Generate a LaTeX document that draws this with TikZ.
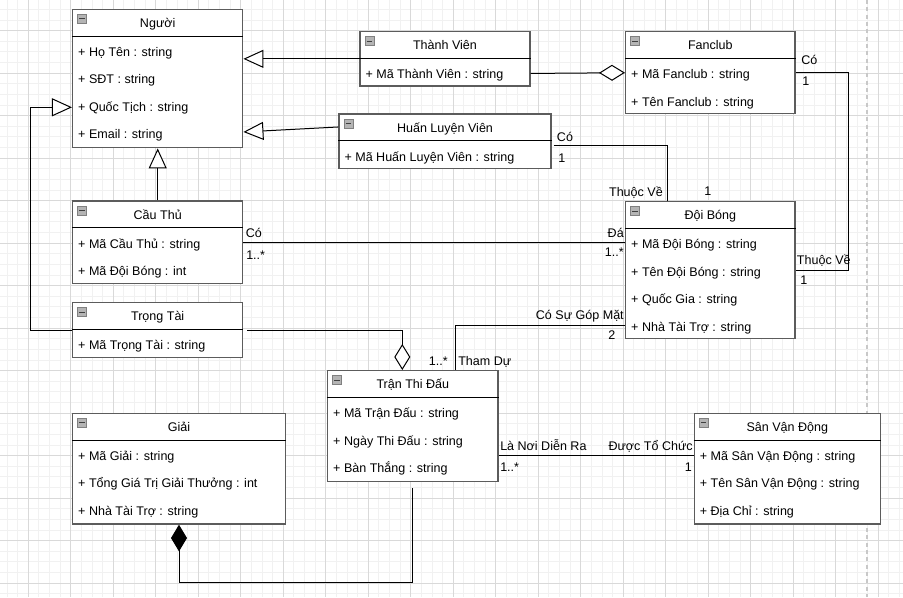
\documentclass[tikz,border=0pt]{standalone}
\usepackage{fontspec}
\setmainfont{Liberation Sans}
\usetikzlibrary{arrows.meta,calc,fit}

\definecolor{gridminor}{HTML}{F1F1F1}
\definecolor{gridmajor}{HTML}{D9D9D9}
\definecolor{boxborder}{HTML}{5C5C5C}
\definecolor{pagebreak}{HTML}{C8C8C8}
\definecolor{iconfill}{HTML}{B4B4B4}
\definecolor{iconedge}{HTML}{808080}

\newcommand{\labelfont}{\fontsize{9.4}{11}\selectfont}

\tikzset{
  classbox/.style={rectangle, draw=boxborder, line width=1.1pt, fill=white, inner sep=0pt},
  divider/.style={draw=black, line width=0.75pt},
  classtitle/.style={font=\labelfont, inner sep=0pt, text height=7pt, text depth=2pt},
  attr/.style={font=\labelfont, inner sep=0pt, anchor=west, text height=7pt, text depth=2pt},
  role/.style={font=\labelfont, inner sep=0pt, text height=7pt, text depth=2pt},
  conn/.style={draw=black, line width=0.75pt},
  gen/.style={conn, -{Triangle[length=15pt, width=13.5pt, fill=white]}},
  agg/.style={conn, -{Diamond[length=19.5pt, width=12pt, fill=white]}},
  comp/.style={conn, {Diamond[length=20pt, width=12pt]}-},
  iconbox/.style={draw=iconedge, fill=iconfill, line width=0.5pt},
  icondash/.style={draw=black!75, line width=0.9pt},
}

% UML class: name, x1, y1, x2, y2, title, attributes
\newcommand{\umlclass}[7]{%
  \node[classbox, fit={(#2,#3) (#4,#5)}] (#1) {};
  \draw[divider] ($(#1.north west)+(0,27.5)$) -- ($(#1.north east)+(0,27.5)$);
  \node[classtitle] (#1-title) at ($(#1.north)+(0,15.5)$) {#6};
  \draw[iconbox] ($(#1.north west)+(5.6,5.7)$) rectangle ++(9,9);
  \draw[icondash] ($(#1.north west)+(7.4,10.2)$) -- ++(5.4,0);
  \foreach \t [count=\k] in {#7} {
    \node[attr] (#1-a\k) at ($(#1.north west)+(6,{44.5+27.5*(\k-1)})$) {\t};
  }
}

\begin{document}
\begin{tikzpicture}[x=0.75pt, y=-0.75pt]
  \useasboundingbox (0,0) rectangle (903,597);
  \fill[white] (0,0) rectangle (903,597);

  % background grid
  \foreach \k in {-2,...,82} {
    \draw[gridminor, line width=0.75pt] ({28.3+\k*10.625},0) -- ++(0,597);
  }
  \foreach \k in {-2,...,53} {
    \draw[gridminor, line width=0.75pt] (0,{30.7+\k*10.625}) -- ++(903,0);
  }
  \foreach \k in {0,...,20} {
    \draw[gridmajor, line width=0.75pt] ({28.3+\k*42.5},0) -- ++(0,597);
  }
  \foreach \k in {0,...,13} {
    \draw[gridmajor, line width=0.75pt] (0,{30.7+\k*42.5}) -- ++(903,0);
  }
  % page break marker
  \draw[pagebreak, line width=1.5pt, dash pattern=on 3pt off 2.5pt] (867,0) -- (867,597);

  % ---------- classes ----------
  \umlclass{nguoi}{72.7}{9.3}{242.7}{147.7}{Người}{+ Họ Tên : string,+ SĐT : string,+ Quốc Tịch : string,+ Email : string}
  \umlclass{thanhvien}{360}{31.7}{530}{86}{Thành Viên}{+ Mã Thành Viên : string}
  \umlclass{hlv}{339}{114}{551}{168.7}{Huấn Luyện Viên}{+ Mã Huấn Luyện Viên : string}
  \umlclass{fanclub}{625.7}{31.7}{795}{113.7}{Fanclub}{+ Mã Fanclub : string,+ Tên Fanclub : string}
  \umlclass{doibong}{625.7}{201.7}{795}{338.7}{Đội Bóng}{+ Mã Đội Bóng : string,+ Tên Đội Bóng : string,+ Quốc Gia : string,+ Nhà Tài Trợ : string}
  \umlclass{cauthu}{72.7}{201}{242.7}{283.7}{Cầu Thủ}{+ Mã Cầu Thủ : string,+ Mã Đội Bóng : int}
  \umlclass{trongtai}{72.7}{302.7}{242.7}{357.7}{Trọng Tài}{+ Mã Trọng Tài : string}
  \umlclass{tran}{327.7}{370.7}{498}{481.3}{Trận Thi Đấu}{+ Mã Trận Đấu : string,+ Ngày Thi Đấu : string,+ Bàn Thắng : string}
  \umlclass{san}{694.3}{413.3}{880.3}{524}{Sân Vận Động}{+ Mã Sân Vận Động : string,+ Tên Sân Vận Động : string,+ Địa Chỉ : string}
  \umlclass{giai}{72.7}{413.3}{285.3}{524}{Giải}{+ Mã Giải : string,+ Tổng Giá Trị Giải Thưởng : int,+ Nhà Tài Trợ : string}

  % ---------- bend points ----------
  \coordinate (tt-bend) at (30.7,107.3);
  \coordinate (fd-x) at (848.3,0);
  \coordinate (hd-x) at (667.7,0);
  \coordinate (ta-x) at (402.3,0);
  \coordinate (tb) at (455.7,325.3);
  \coordinate (ts-y) at (0,455);
  \coordinate (gt-y) at (0,582.7);

  % ---------- generalisations ----------
  \draw[gen] (thanhvien.west) -- (thanhvien.west -| nguoi.east);
  \draw[gen] ($(hlv.north west)+(0,13.7)$) -- ($(nguoi.north east)+(0,123.4)$);
  \draw[gen] (cauthu.north) -- (nguoi.south);
  \draw[gen] (trongtai.west) -| (tt-bend) -- (tt-bend -| nguoi.west);

  % ---------- aggregations / composition ----------
  \draw[agg] ($(thanhvien.south east)+(0,-13.3)$) -- (fanclub.west);
  \draw[agg] ([xshift=3pt]trongtai.east) -| (ta-x |- tran.north);
  \draw[comp] (giai.south) -- (giai.south |- gt-y) -| ([yshift=-4.5pt]tran.south);

  % ---------- associations ----------
  \draw[conn] (fanclub.east) -- (fanclub.east -| fd-x) -- (doibong.east -| fd-x) -- (doibong.east);
  \draw[conn] ($(hlv.east)+(2,4.4)$) -| (hd-x |- doibong.north);
  \draw[conn] (cauthu.east) -- (cauthu.east -| doibong.west);
  \draw[conn] (tb |- tran.north) -- (tb) -- (tb -| doibong.west);
  \draw[conn] (ts-y -| tran.east) -- (ts-y -| san.west);

  % ---------- role names and multiplicities ----------
  \node[role, anchor=west] (r-fc-co) at (801,61.5) {Có};
  \node[role, anchor=west] (r-fc-1) at (802,82.5) {1};
  \node[role, anchor=west] (r-db-tv) at (796.7,261) {Thuộc Về};
  \node[role, anchor=west] (r-db-1) at (800,281) {1};

  \node[role, anchor=west] (r-hlv-co) at (556.7,138) {Có};
  \node[role, anchor=west] (r-hlv-1) at (558,159) {1};
  \node[role, anchor=east] (r-db-tv2) at (663,193) {Thuộc Về};
  \node[role, anchor=west] (r-db-1b) at (704,192.5) {1};

  \node[role, anchor=west] (r-ct-co) at (245.5,234) {Có};
  \node[role, anchor=west] (r-ct-m) at (246,256) {1..*};
  \node[role, anchor=east] (r-db-da) at (624,234) {Đá};
  \node[role, anchor=east] (r-db-m) at (624,253) {1..*};

  \node[role, anchor=east] (r-db-gm) at (624,316.5) {Có Sự Góp Mặt};
  \node[role, anchor=west] (r-db-2) at (608,336.5) {2};
  \node[role, anchor=east] (r-tr-m) at (448,362.5) {1..*};
  \node[role, anchor=west] (r-tr-td) at (458,362.5) {Tham Dự};

  \node[role, anchor=west] (r-tr-nr) at (500,447) {Là Nơi Diễn Ra};
  \node[role, anchor=west] (r-tr-m2) at (500,468) {1..*};
  \node[role, anchor=east] (r-san-tc) at (693,447) {Được Tổ Chức};
  \node[role, anchor=west] (r-san-1) at (684.5,468) {1};
\end{tikzpicture}
\end{document}
